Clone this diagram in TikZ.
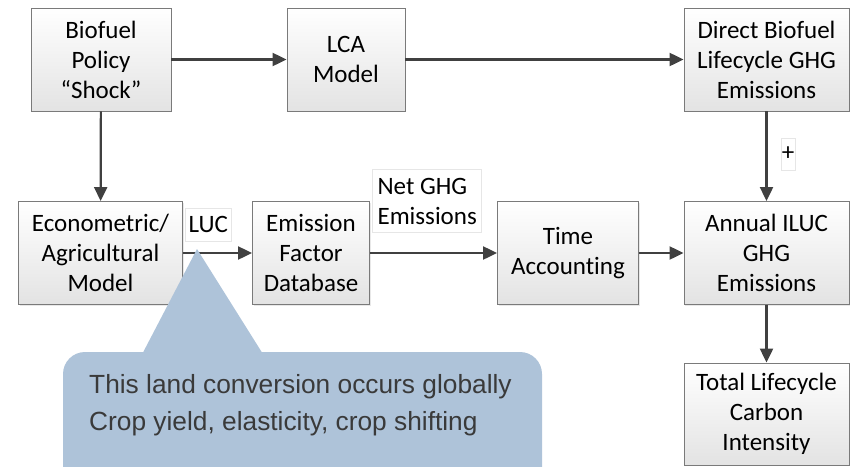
\documentclass[tikz,border=0pt]{standalone}
\usepackage{fontspec}
\setmainfont{Carlito}[RawFeature=-liga]
\newfontfamily\notefont{Liberation Sans}
\usetikzlibrary{arrows.meta,shadows}

\definecolor{boxline}{HTML}{7A7A7A}
\definecolor{boxbottom}{HTML}{E3E3E3}
\definecolor{flowline}{HTML}{404040}
\definecolor{calloutfill}{HTML}{AEC3D9}
\definecolor{notetext}{HTML}{3A3A3A}
\definecolor{labelline}{HTML}{E6E6E6}

\tikzset{
  stagebox/.style={draw=boxline, line width=0.9pt, top color=white, bottom color=boxbottom,
    drop shadow={opacity=0.18, shadow xshift=1.2pt, shadow yshift=-1.2pt},
    align=center, inner sep=0pt, font=\fontsize{25}{30}\selectfont, text=black},
  flow/.style={draw=flowline, line width=2.2pt, -{Triangle[length=14pt,width=13pt]}},
  edgelabel/.style={draw=labelline, line width=0.6pt, fill=white, align=left, inner sep=0pt,
    font=\fontsize{25}{30}\selectfont},
  callout/.style={fill=calloutfill, draw=none},
  notestyle/.style={font=\notefont\fontsize{26.3}{30}\selectfont, text=notetext, inner sep=0pt, anchor=base west}
}

\begin{document}
\begin{tikzpicture}[x=1pt, y=-1pt]
  \useasboundingbox (0,0) rectangle (850,466);

  % process stages
  \node[stagebox, minimum width=140pt, minimum height=103pt] (bio) at (101,59.5)
    {Biofuel\\Policy\\“Shock”};
  \node[stagebox, minimum width=118pt, minimum height=103pt] (lca) at (346,59.5)
    {LCA\\Model};
  \node[stagebox, minimum width=165pt, minimum height=103pt] (dir) at (766.5,59.5)
    {Direct Biofuel\\Lifecycle GHG\\Emissions};
  \node[stagebox, minimum width=164pt, minimum height=103pt] (eco) at (100.5,253)
    {Econometric/\\Agricultural\\Model};
  \node[stagebox, minimum width=117pt, minimum height=103pt] (efd) at (311,253)
    {Emission\\Factor\\Database};
  \node[stagebox, minimum width=141pt, minimum height=103pt] (tim) at (568,253)
    {Time\\Accounting};
  \node[stagebox, minimum width=165pt, minimum height=103pt] (ann) at (766.5,253)
    {Annual ILUC\\GHG\\Emissions};
  \node[stagebox, minimum width=165pt, minimum height=102pt] (tot) at (766.5,414)
    {Total Lifecycle\\Carbon\\Intensity};

  % connectors
  \draw[flow] (bio) -- (lca);
  \draw[flow] (lca) -- (dir);
  \draw[flow] (bio) -- (eco);
  \draw[flow] (dir) -- (ann);
  \draw[flow] (eco) -- (efd);
  \draw[flow] (efd) -- (tim);
  \draw[flow] (tim) -- (ann);
  \draw[flow] (ann) -- (tot);

  % connector labels
  \node[edgelabel, minimum width=46.7pt, minimum height=32.7pt] (luc) at (208.3,224.7) {LUC};
  \node[edgelabel, minimum width=109pt, minimum height=63.4pt] (net) at (427.2,201)
    {Net GHG\\Emissions};
  \node[edgelabel, minimum width=14pt, minimum height=32pt] (plus) at (788,154) {+};

  % explanatory callout pointing at the LUC flow
  \begin{scope}
    \clip (0,0) rectangle (850,466);
    \fill[callout, rounded corners=22pt] (63,352) rectangle (542,500);
    \fill[callout] (143,352.5) -- (197,249) -- (262,352.5) -- cycle;
  \end{scope}
  \node[notestyle] (note1) at (89,393.3) {This land conversion occurs globally};
  \node[notestyle] (note2) at (89,430.5) {Crop yield, elasticity, crop shifting};
\end{tikzpicture}
\end{document}
